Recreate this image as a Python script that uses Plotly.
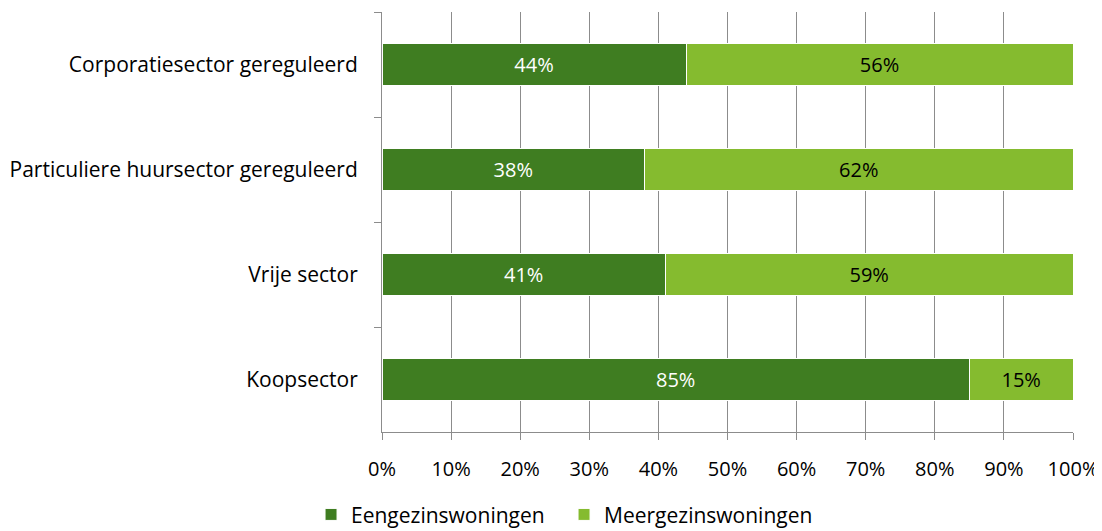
import plotly.graph_objects as go

categories = ["Corporatiesector gereguleerd", "Particuliere huursector gereguleerd", "Vrije sector", "Koopsector"]
eengezins = [44, 38, 41, 85]
meergezins = [56, 62, 59, 15]
series_names = ["Eengezinswoningen", "Meergezinswoningen"]
x_ticks = [0, 10, 20, 30, 40, 50, 60, 70, 80, 90, 100]
x_tick_labels = [f"{v}%" for v in x_ticks]

FONT = "Open Sans"
dark = "#3F7D21"
light = "#85BB2F"

fig = go.Figure()
fig.add_trace(go.Bar(
    y=categories, x=eengezins, name=series_names[0], orientation="h",
    marker=dict(color=dark, line=dict(color="white", width=1)),
    text=[f"{v}%" for v in eengezins], textposition="inside", insidetextanchor="middle",
    textfont=dict(color="white", size=20, family=FONT),
))
fig.add_trace(go.Bar(
    y=categories, x=meergezins, name=series_names[1], orientation="h",
    marker=dict(color=light, line=dict(color="white", width=1)),
    text=[f"{v}%" for v in meergezins], textposition="inside", insidetextanchor="middle",
    textfont=dict(color="black", size=20, family=FONT),
))
fig.update_layout(
    barmode="stack", bargap=0.6,
    width=1094, height=531,
    margin=dict(l=374, r=29, t=4, b=104),
    paper_bgcolor="white", plot_bgcolor="white",
    font=dict(family=FONT, size=20, color="black"),
    legend=dict(orientation="h", x=-0.1027, xanchor="left", y=-104 / 423, yanchor="bottom",
                font=dict(size=21, family=FONT), itemwidth=30, traceorder="normal",
                entrywidth=208, entrywidthmode="pixels"),
    xaxis=dict(range=[0, 100], tickvals=x_ticks, ticktext=x_tick_labels, automargin=False,
               showgrid=True, gridcolor="#8C8C8C", gridwidth=1,
               showline=True, linecolor="#8C8C8C", linewidth=1,
               ticks="outside", ticklen=7, tickcolor="#8C8C8C", zeroline=False,
               tickfont=dict(size=20, family=FONT), ticklabelstandoff=12),
    yaxis=dict(autorange="reversed", tickson="boundaries", automargin=False,
               showline=True, linecolor="#8C8C8C", linewidth=1,
               ticks="outside", ticklen=7, tickcolor="#8C8C8C", showgrid=False,
               tickfont=dict(size=21, family=FONT), ticklabelstandoff=19),
)
fig.write_html("out.html")
